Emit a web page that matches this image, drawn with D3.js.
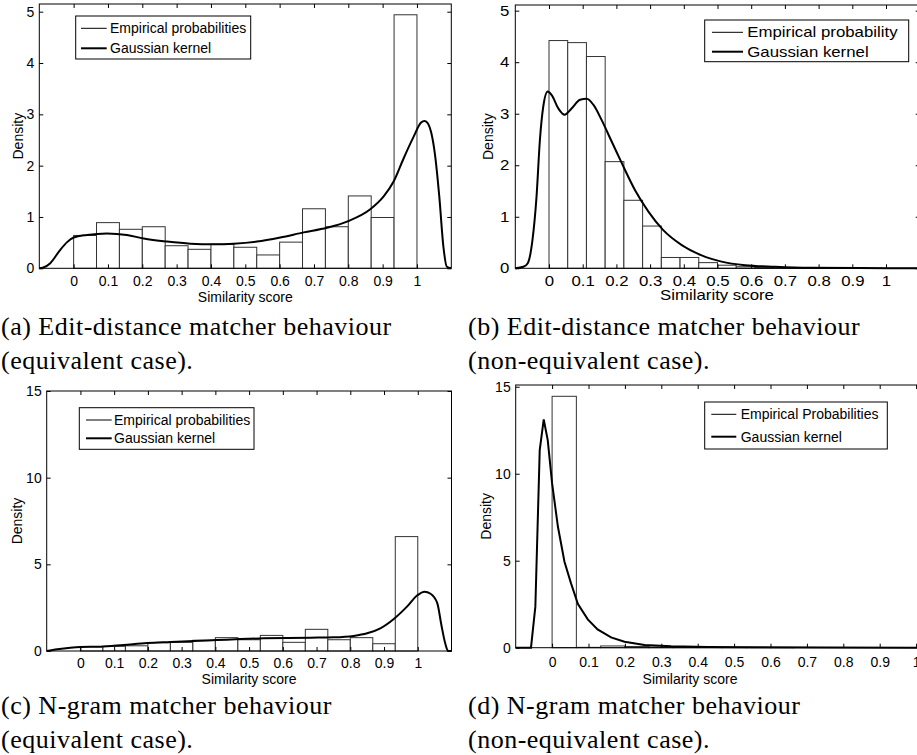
<!DOCTYPE html>
<html>
<head>
<meta charset="utf-8">
<script src="https://cdn.jsdelivr.net/npm/d3@7"></script>
<style>
    body { margin: 0; background: #fff; }
    svg { display: block; }
    .lbl { font-family: "Liberation Sans", Arial, sans-serif; font-size: 14px; fill: #000; }
    .cap { font-family: "Liberation Serif", "Times New Roman", serif; font-size: 26px; letter-spacing: 0.5px; fill: #000; }
</style>
</head>
<body>
<svg id="fig" width="917" height="755"></svg>
<script>
// histogram heights (density), equal-width bins between 0 and 1
var histA = [0.64, 0.89, 0.76, 0.81, 0.44, 0.37, 0.47, 0.41, 0.26, 0.51, 1.16, 0.81, 1.41, 0.99, 4.94];
var histB = [4.42, 4.38, 4.11, 2.07, 1.32, 0.82, 0.21, 0.21, 0.11, 0.06, 0.03, 0.02, 0.01, 0.01, 0.005, 0.005, 0.005, 0];
var histC = [0.25, 0.27, 0.3, 0.48, 0.5, 0.62, 0.77, 0.65, 0.9, 0.5, 1.25, 0.65, 0.77, 0.42, 6.6];
var histD = [14.45, 0.02, 0.1, 0.07, 0.04, 0.02, 0.01, 0.01, 0.005, 0.005, 0, 0, 0, 0, 0];

// gaussian kernel estimates, [score, density]
var kdeA = [[-0.1, 0], [-0.09, 0.01], [-0.068, 0.1], [-0.039, 0.36], [-0.019, 0.51], [0, 0.6], [0.039, 0.65],
    [0.097, 0.68], [0.155, 0.65], [0.204, 0.58], [0.272, 0.52], [0.34, 0.48], [0.408, 0.47], [0.466, 0.48],
    [0.534, 0.52], [0.602, 0.6], [0.67, 0.7], [0.738, 0.79], [0.8, 0.92], [0.864, 1.15], [0.903, 1.4],
    [0.932, 1.69], [0.961, 2.14], [0.99, 2.56], [1.012, 2.84], [1.022, 2.87], [1.03, 2.84], [1.042, 2.63],
    [1.052, 2.24], [1.065, 1.4], [1.077, 0.42], [1.087, 0.03], [1.1, 0]];
var kdeB = [[-0.1, 0], [-0.076, 0.03], [-0.063, 0.1], [-0.049, 0.55], [-0.037, 1.39], [-0.027, 2.49],
    [-0.017, 3.14], [-0.004, 3.43], [0.008, 3.36], [0.028, 3.1], [0.046, 2.98], [0.067, 3.1], [0.092, 3.27],
    [0.112, 3.29], [0.132, 3.17], [0.156, 2.88], [0.186, 2.46], [0.216, 2.04], [0.255, 1.52], [0.295, 1.1],
    [0.339, 0.74], [0.394, 0.45], [0.453, 0.25], [0.512, 0.13], [0.582, 0.06], [0.671, 0.03], [0.77, 0.01],
    [0.918, 0.005], [1.1, 0]];
var kdeC = [[-0.1, 0], [-0.069, 0.1], [-0.03, 0.19], [0, 0.23], [0.059, 0.25], [0.128, 0.35], [0.198, 0.46],
    [0.267, 0.52], [0.336, 0.58], [0.405, 0.63], [0.474, 0.69], [0.543, 0.73], [0.613, 0.75], [0.682, 0.77],
    [0.751, 0.79], [0.81, 0.87], [0.85, 1.02], [0.889, 1.31], [0.929, 1.85], [0.968, 2.56], [0.998, 3.2],
    [1.02, 3.42], [1.038, 3.3], [1.058, 2.75], [1.07, 1.5], [1.082, 0.4], [1.09, 0], [1.1, 0]];
var kdeD = [[-0.1, 0], [-0.058, 0], [-0.046, 2.36], [-0.034, 11.36], [-0.023, 13.12], [-0.012, 11.93],
    [0, 9.44], [0.016, 6.95], [0.034, 4.94], [0.052, 3.7], [0.071, 2.51], [0.098, 1.63], [0.125, 1.05],
    [0.162, 0.59], [0.199, 0.34], [0.254, 0.15], [0.327, 0.08], [0.428, 0.04], [0.565, 0.02], [0.748, 0.01],
    [1.1, 0]];

var xTicks = [0, 0.1, 0.2, 0.3, 0.4, 0.5, 0.6, 0.7, 0.8, 0.9, 1];
var yTicksSmall = [0, 1, 2, 3, 4, 5];
var yTicksLarge = [0, 5, 10, 15];

var legendA = ["Empirical probabilities", "Gaussian kernel"];
var legendB = ["Empirical probability", "Gaussian kernel"];
var legendD = ["Empirical Probabilities", "Gaussian kernel"];

var captionA = ["(a) Edit-distance matcher behaviour", "(equivalent case)."];
var captionB = ["(b) Edit-distance matcher behaviour", "(non-equivalent case)."];
var captionC = ["(c) N-gram matcher behaviour", "(equivalent case)."];
var captionD = ["(d) N-gram matcher behaviour", "(non-equivalent case)."];

var svg = d3.select("#fig");

// panel layout (pixels)
var panels = [
    { hist: histA, kde: kdeA, yTicks: yTicksSmall, yMax: 5.15, left: 39.3, right: 451.3, top: 4, bottom: 268.3,
      pad: 8, sx: 1, legend: legendA, lg: [75.7, 16, 175, 43, 81, 106.7, 110, 28.3, 48.3],
      dens: 18.3, simX: 245.3, sim: 301.5, curve: d3.curveMonotoneX, caption: captionA, cx: 1, cy: 335 },
    { hist: histB, kde: kdeB, yTicks: yTicksSmall, yMax: 5.11, left: 515.3, right: 919.7, top: 5, bottom: 268.3,
      pad: 8, sx: 1.2, legend: legendB, lg: [704.7, 20, 204, 41.7, 712, 743, 747.3, 32.3, 51.7],
      dens: 488, simX: 717, sim: 300, curve: d3.curveMonotoneX, caption: captionB, cx: 468, cy: 335 },
    { hist: histC, kde: kdeC, yTicks: yTicksLarge, yMax: 15, left: 46.7, right: 451.5, top: 391, bottom: 651,
      pad: 7, sx: 1, legend: legendA, lg: [79.3, 407.7, 174.7, 41.6, 86, 111.7, 114, 420, 438.3],
      dens: 16.7, simX: 249, sim: 684, curve: d3.curveMonotoneX, caption: captionC, cx: 1, cy: 714 },
    { hist: histD, kde: kdeD, yTicks: yTicksLarge, yMax: 15.1, left: 515.7, right: 952.5, top: 385, bottom: 647.7,
      pad: 9, sx: 1, legend: legendD, lg: [704.7, 402, 182.6, 47, 711.3, 736.3, 740.7, 414.3, 436.7],
      dens: 486.3, simX: 690, sim: 684, curve: d3.curveLinear, caption: captionD, cx: 468, cy: 714 }
];

panels.forEach(function (p) {
    var x = d3.scaleLinear().domain([-0.1, 1.1]).range([p.left, p.right]);
    var y = d3.scaleLinear().domain([0, p.yMax]).range([p.bottom, p.top]);
    var g = svg.append("g");
    var binW = 1 / p.hist.length;

    // histogram bars
    g.selectAll("rect.bar")
        .data(p.hist)
        .enter().append("rect")
        .attr("class", "bar")
        .attr("x", function (d, i) { return x(i * binW); })
        .attr("width", function (d, i) { return x((i + 1) * binW) - x(i * binW); })
        .attr("y", function (d) { return y(d); })
        .attr("height", function (d) { return y(0) - y(d); })
        .attr("fill", "#fff")
        .attr("stroke", "#333")
        .attr("stroke-width", 1);

    // kernel curve
    var line = d3.line()
        .x(function (d) { return x(d[0]); })
        .y(function (d) { return y(d[1]); })
        .curve(p.curve);
    g.append("path")
        .datum(p.kde)
        .attr("d", line)
        .attr("fill", "none")
        .attr("stroke", "#000")
        .attr("stroke-width", 2);

    // axes, ticks point inwards
    var fmt = function (d) { return String(d); };
    var bottomAx = g.append("g")
        .attr("transform", "translate(0," + p.bottom + ")")
        .call(d3.axisBottom(x).tickValues(xTicks).tickFormat(fmt).tickSizeInner(-4).tickSizeOuter(0).tickPadding(p.pad));
    var topAx = g.append("g")
        .attr("transform", "translate(0," + p.top + ")")
        .call(d3.axisTop(x).tickValues(xTicks).tickFormat("").tickSizeInner(-4).tickSizeOuter(0));
    var leftAx = g.append("g")
        .attr("transform", "translate(" + p.left + ",0)")
        .call(d3.axisLeft(y).tickValues(p.yTicks).tickFormat(fmt).tickSizeInner(-4).tickSizeOuter(0).tickPadding(5));
    var rightAx = g.append("g")
        .attr("transform", "translate(" + p.right + ",0)")
        .call(d3.axisRight(y).tickValues(p.yTicks).tickFormat("").tickSizeInner(-4).tickSizeOuter(0));
    [bottomAx, topAx, leftAx, rightAx].forEach(function (a) {
        a.select(".domain").remove();
        a.selectAll(".tick line").attr("stroke", "#000");
        a.selectAll("text").attr("class", "lbl").attr("font-family", null).attr("font-size", null)
            .attr("transform", "scale(" + p.sx + ",1)");
    });
    bottomAx.selectAll("text").attr("dy", "0.71em");

    // box
    g.append("rect")
        .attr("x", p.left).attr("y", p.top)
        .attr("width", p.right - p.left).attr("height", p.bottom - p.top)
        .attr("fill", "none").attr("stroke", "#000").attr("stroke-width", 1);

    // axis titles
    g.append("text").attr("class", "lbl")
        .attr("transform", "translate(" + p.simX + "," + p.sim + ") scale(" + p.sx + ",1)")
        .attr("text-anchor", "middle")
        .text("Similarity score");
    g.append("text").attr("class", "lbl")
        .attr("transform", "translate(" + p.dens + "," + ((p.top + p.bottom) / 2) + ") rotate(-90)")
        .attr("text-anchor", "middle")
        .attr("dy", "0.35em")
        .text("Density");

    // legend
    var L = p.lg;
    var lg = g.append("g");
    lg.append("rect")
        .attr("x", L[0]).attr("y", L[1]).attr("width", L[2]).attr("height", L[3])
        .attr("fill", "#fff").attr("stroke", "#000").attr("stroke-width", 1);
    [L[7], L[8]].forEach(function (ly, i) {
        lg.append("line")
            .attr("x1", L[4]).attr("x2", L[5]).attr("y1", ly).attr("y2", ly)
            .attr("stroke", "#000").attr("stroke-width", i === 0 ? 1 : 2);
        lg.append("text").attr("class", "lbl")
            .attr("transform", "translate(" + L[6] + "," + ly + ") scale(" + p.sx + ",1)")
            .attr("dy", "0.35em")
            .text(p.legend[i]);
    });

    // caption below the panel
    p.caption.forEach(function (c, i) {
        svg.append("text").attr("class", "cap")
            .attr("x", p.cx).attr("y", p.cy + i * 34)
            .text(c);
    });
});
</script>
</body>
</html>
